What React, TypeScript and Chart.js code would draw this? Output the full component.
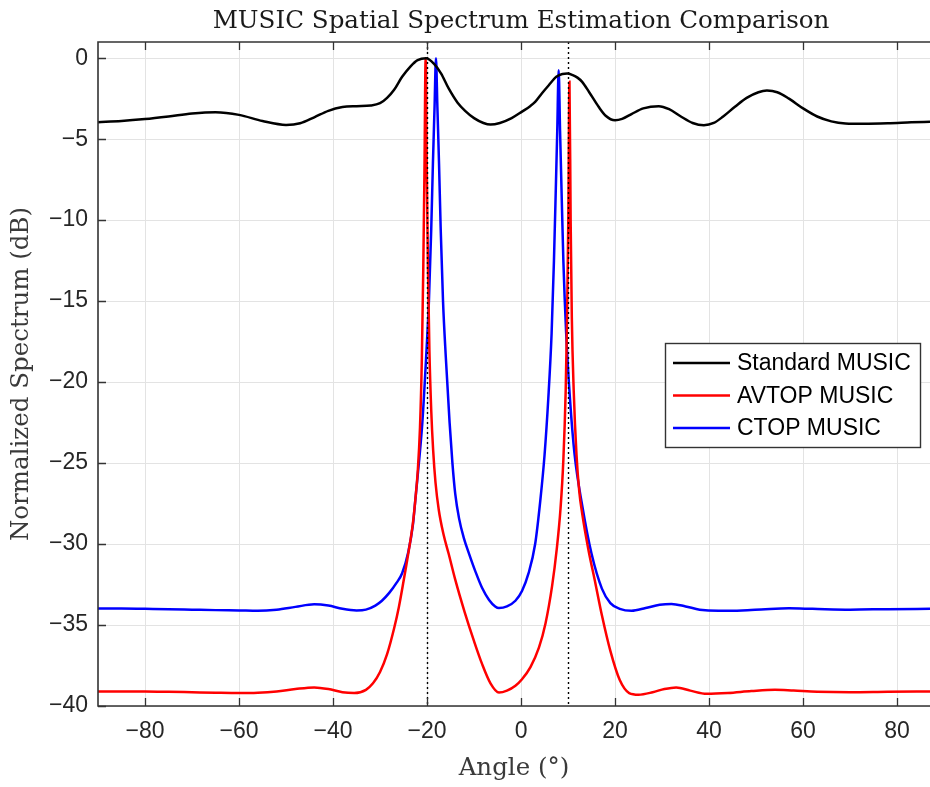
import { useEffect, useRef } from 'react';
import { Chart, registerables } from 'chart.js';

Chart.register(...registerables);

const chartTitle = 'MUSIC Spatial Spectrum Estimation Comparison';
const xTitle = 'Angle (°)';
const yTitle = 'Normalized Spectrum (dB)';
const seriesNames = ['Standard MUSIC', 'AVTOP MUSIC', 'CTOP MUSIC'];
const seriesColors = ['#000000', '#ff0000', '#0000ff'];

const xTicks = [-80, -60, -40, -20, 0, 20, 40, 60, 80];
const yTicks = [-40, -35, -30, -25, -20, -15, -10, -5, 0];
const sourceAngles = [-20, 10];

const stdAngles = [
  -90, -85, -80, -75, -70, -65, -60, -55, -50, -47, -44, -41, -38, -35, -32, -30, -28.5, -27, -25.3, -23.5,
  -22, -20.2, -18.5, -17, -15.4, -13.5, -11.9, -10, -8, -6.5, -4.5, -2, 0.2, 2, 3, 4.5, 5.9, 7.5, 8.8, 9.8,
  11, 12, 13, 14.5, 16.5, 18, 20, 21.5, 23.5, 26, 29.3, 31.5, 34, 36.5, 38.9, 41, 43, 45.5, 48, 50.5,
  52.3, 54.5, 57, 60, 63, 66, 69, 73, 78, 83, 87,
];
const stdDb = [
  -3.95, -3.88, -3.76, -3.6, -3.42, -3.34, -3.5, -3.88, -4.12, -4.02, -3.65, -3.25, -3.02, -2.96, -2.92, -2.78, -2.45, -1.95, -1.15, -0.5,
  -0.12, 0, -0.35, -0.95, -1.87, -2.75, -3.25, -3.7, -4.0, -4.1, -4.0, -3.7, -3.3, -2.95, -2.7, -2.15, -1.67, -1.15, -0.97, -0.95,
  -1.05, -1.2, -1.46, -2.1, -3.0, -3.55, -3.83, -3.75, -3.45, -3.1, -2.96, -3.15, -3.6, -4.0, -4.14, -4.0, -3.6, -3.0, -2.45, -2.1,
  -2.0, -2.1, -2.5, -3.1, -3.6, -3.9, -4.03, -4.05, -4.02, -3.96, -3.92,
];

const avtopAngles = [
  -90, -85, -80, -75, -70, -65, -60, -56, -52, -48, -44, -41, -38, -35.5, -33, -31.5, -30, -28.5, -27, -26,
  -25, -24, -23, -22.5, -22, -21.5, -21.1, -20.8, -20.55, -20.3, -20.05, -19.8, -19.5, -19.1, -18.7, -18.2, -17.5, -16.5, -15.4, -14,
  -12, -10, -8.3, -6.5, -4.7, -3, -1.2, 0.2, 2, 3.8, 5.2, 6.6, 7.6, 8.4, 9, 9.5, 9.8, 10.05, 10.3, 10.55,
  10.8, 11.2, 11.8, 12.4, 13, 14.3, 15.8, 17.2, 19, 21, 23, 25, 28, 30.5, 33, 36, 39.5, 44, 49, 54,
  58, 63, 70, 78, 87,
];
const avtopDb = [
  -39.1, -39.1, -39.1, -39.12, -39.15, -39.18, -39.2, -39.18, -39.1, -38.95, -38.85, -38.95, -39.15, -39.2, -39.0, -38.6, -37.9, -36.8, -35.2, -33.9,
  -32.3, -30.6, -28.7, -27.3, -25.6, -22.8, -18.5, -13, -7, 0, -7, -13, -18, -21.8, -24.2, -26.2, -27.9, -29.4, -30.6, -32.2,
  -34.2, -36.0, -37.4, -38.6, -39.17, -39.05, -38.75, -38.35, -37.6, -36.4, -34.9, -32.6, -30.3, -27.8, -24.8, -20.5, -16, -10, -1.46, -10,
  -16, -20.5, -24.5, -26.8, -28.1, -30.3, -32.4, -34.4, -36.6, -38.4, -39.2, -39.3, -39.15, -38.95, -38.85, -39.05, -39.25, -39.2, -39.08, -39.0,
  -39.05, -39.12, -39.15, -39.12, -39.1,
];

const ctopAngles = [
  -90, -85, -80, -75, -70, -65, -60, -56, -52, -48, -44, -41, -38, -35, -33, -31, -29.6, -28, -26.5, -25.3,
  -24, -23, -22.5, -22, -21, -20.2, -19.6, -19.1, -18.75, -18.4, -18.1, -17.8, -17.45, -17.1, -16.6, -16, -15.2, -14.6, -14, -13.2,
  -12.2, -11, -9.7, -8.3, -6.8, -5.5, -4.7, -3, -1.2, 0.2, 1.6, 3, 4.1, 5, 5.8, 6.5, 7, 7.4, 7.7, 8,
  8.3, 8.6, 9, 9.6, 10.4, 11.4, 13, 15, 17.2, 19, 21, 23.5, 26.5, 29.5, 32, 35, 38, 42, 47, 52,
  57, 62, 70, 78, 87,
];
const ctopDb = [
  -33.98, -33.98, -34.0, -34.02, -34.05, -34.08, -34.1, -34.12, -34.05, -33.88, -33.72, -33.8, -34.0, -34.1, -34.05, -33.8, -33.5, -33.0, -32.4, -31.8,
  -30.5, -28.8, -27.3, -25.8, -22.5, -18.5, -15, -10.5, -6.5, -3, 0, -3, -6.5, -10.5, -15, -18.5, -22.5, -25.0, -26.9, -28.4,
  -29.6, -30.65, -31.7, -32.7, -33.45, -33.85, -33.95, -33.85, -33.5, -32.9, -31.8, -30.0, -27.3, -24.5, -21, -17, -12.5, -8, -4.5, -0.74,
  -4.5, -8, -12.5, -17, -21, -24.5, -27.6, -30.6, -32.75, -33.65, -34.0, -34.12, -33.95, -33.75, -33.7, -33.85, -34.05, -34.12, -34.1, -34.02,
  -33.97, -34.0, -34.05, -34.02, -34.0,
];

const axisColor = '#333333';
const textColor = '#262626';
const serif = '"DejaVu Serif"';
const sans = '"Liberation Sans"';

function toPoints(xs: number[], ys: number[]) {
  return xs.map((x, i) => ({ x, y: ys[i] }));
}

function minusLabel(v: number | string) {
  return String(v).replace('-', '\u2212');
}

const framePlugin = {
  id: 'frame',
  afterDatasetsDraw(chart: any) {
    const { ctx, chartArea: a, scales } = chart;
    const xs = scales.x;
    const ys = scales.y;
    ctx.save();
    ctx.strokeStyle = '#000000';
    ctx.lineWidth = 1.4;
    ctx.setLineDash([2, 3]);
    for (const s of sourceAngles) {
      const px = Math.round(xs.getPixelForValue(s)) + 0.5;
      ctx.beginPath();
      ctx.moveTo(px, a.top);
      ctx.lineTo(px, a.bottom);
      ctx.stroke();
    }
    ctx.setLineDash([]);
    ctx.strokeStyle = axisColor;
    ctx.lineWidth = 1.6;
    ctx.beginPath();
    ctx.moveTo(a.right + 2, a.top);
    ctx.lineTo(a.left, a.top);
    ctx.lineTo(a.left, a.bottom);
    ctx.lineTo(a.right + 2, a.bottom);
    ctx.stroke();
    const tl = 8;
    ctx.lineWidth = 1.3;
    ctx.beginPath();
    for (const v of xTicks) {
      const px = Math.round(xs.getPixelForValue(v)) + 0.5;
      ctx.moveTo(px, a.bottom);
      ctx.lineTo(px, a.bottom - tl);
      ctx.moveTo(px, a.top);
      ctx.lineTo(px, a.top + tl);
    }
    for (const v of yTicks) {
      const py = Math.round(ys.getPixelForValue(v)) + 0.5;
      ctx.moveTo(a.left, py);
      ctx.lineTo(a.left + tl, py);
    }
    ctx.stroke();
    ctx.restore();
  },
  afterDraw(chart: any) {
    const { ctx, scales } = chart;
    ctx.save();
    ctx.fillStyle = '#1a1a1a';
    ctx.font = `24.6px ${serif}`;
    ctx.textAlign = 'center';
    ctx.textBaseline = 'alphabetic';
    ctx.fillText(chartTitle, scales.x.getPixelForValue(0), 28);

    const lx = 665, ly = 343, lw = 255, lh = 104;
    ctx.fillStyle = '#ffffff';
    ctx.fillRect(lx, ly, lw, lh);
    ctx.strokeStyle = axisColor;
    ctx.lineWidth = 1.4;
    ctx.strokeRect(lx + 0.5, ly + 0.5, lw, lh);
    const rows = [363, 395.5, 428];
    ctx.font = `23px ${sans}`;
    ctx.textAlign = 'left';
    ctx.textBaseline = 'middle';
    seriesNames.forEach((name, i) => {
      ctx.strokeStyle = seriesColors[i];
      ctx.lineWidth = 2.5;
      ctx.beginPath();
      ctx.moveTo(673, rows[i]);
      ctx.lineTo(730, rows[i]);
      ctx.stroke();
      ctx.fillStyle = '#000000';
      ctx.fillText(name, 737, rows[i] + 1);
    });
    ctx.restore();
  },
};

export default function App() {
  const ref = useRef<HTMLCanvasElement | null>(null);

  useEffect(() => {
    if (!ref.current) return;
    const datasets = [
      { label: seriesNames[0], data: toPoints(stdAngles, stdDb), borderColor: seriesColors[0] },
      { label: seriesNames[1], data: toPoints(avtopAngles, avtopDb), borderColor: seriesColors[1] },
      { label: seriesNames[2], data: toPoints(ctopAngles, ctopDb), borderColor: seriesColors[2] },
    ].map((d) => ({
      ...d,
      borderWidth: 2.5,
      pointRadius: 0,
      fill: false,
      cubicInterpolationMode: 'monotone' as const,
    }));

    const chart = new Chart(ref.current, {
      type: 'line',
      data: { datasets },
      plugins: [framePlugin],
      options: {
        animation: false,
        responsive: false,
        devicePixelRatio: 1,
        layout: { padding: { top: 42, left: 0, right: 0, bottom: 0 } },
        plugins: {
          legend: { display: false },
          title: { display: false },
          tooltip: { enabled: false },
        },
        scales: {
          x: {
            type: 'linear',
            min: -90,
            max: 87,
            afterBuildTicks: (s: any) => {
              s.ticks = xTicks.map((value) => ({ value }));
            },
            afterFit: (s: any) => {
              s.height = 81;
            },
            grid: { color: '#e3e3e3', lineWidth: 1, drawTicks: false },
            border: { display: false },
            ticks: {
              padding: 12,
              maxRotation: 0,
              color: textColor,
              font: { family: sans, size: 23 },
              callback: (v: any) => minusLabel(v),
            },
            title: {
              display: true,
              text: xTitle,
              color: '#3a3a3a',
              font: { family: serif, size: 24.5 },
              padding: { top: 0, bottom: 4 },
            },
          },
          y: {
            type: 'linear',
            min: -40,
            max: 1,
            afterBuildTicks: (s: any) => {
              s.ticks = yTicks.map((value) => ({ value }));
            },
            afterFit: (s: any) => {
              s.width = 98;
            },
            grid: { color: '#e3e3e3', lineWidth: 1, drawTicks: false },
            border: { display: false },
            ticks: {
              padding: 10,
              color: textColor,
              font: { family: sans, size: 23 },
              callback: (v: any) => minusLabel(v),
            },
            title: {
              display: true,
              text: yTitle,
              color: '#3a3a3a',
              font: { family: serif, size: 24.5 },
              padding: { top: 7, bottom: 0 },
            },
          },
        },
      },
    });
    return () => chart.destroy();
  }, []);

  return (
    <div style={{ position: 'absolute', left: 0, top: 0, width: 930, height: 787, background: '#ffffff' }}>
      <canvas ref={ref} width={930} height={787} style={{ width: 930, height: 787, display: 'block' }} />
    </div>
  );
}
